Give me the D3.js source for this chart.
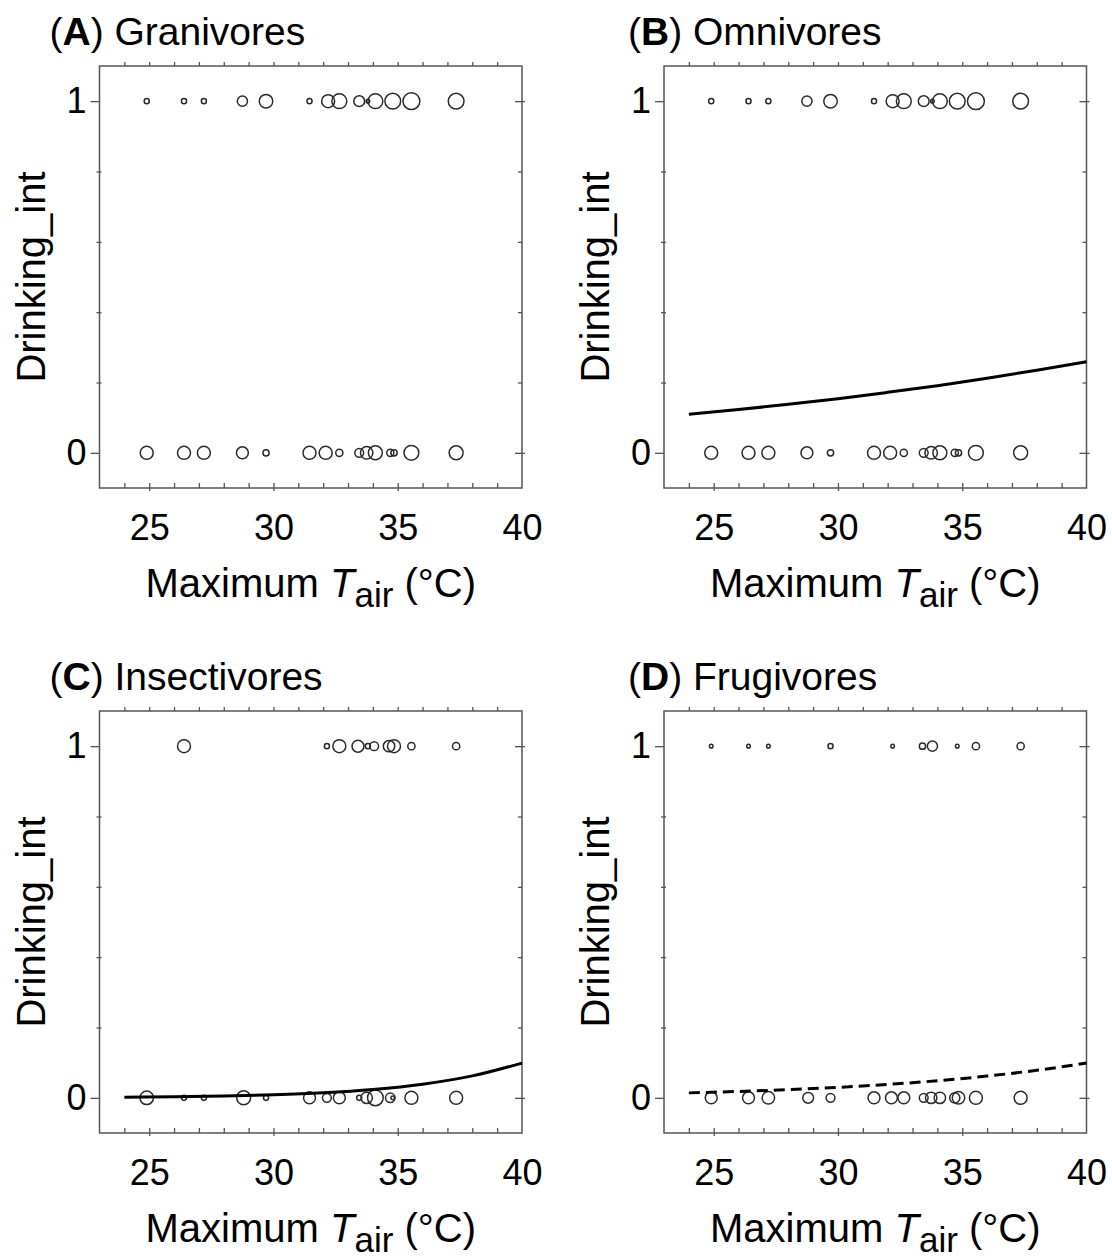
<!DOCTYPE html>
<html><head><meta charset="utf-8">
<script src="https://cdn.jsdelivr.net/npm/d3@7"></script>
<style>
body{margin:0;background:#fff}
svg{display:block}
text{font-family:"Liberation Sans",Arial,Helvetica,sans-serif;fill:#000}
</style>
</head><body>
<svg id="chart" width="1112" height="1259"></svg>
<script>
// ---------- data ----------
const panelLetters = ["A", "B", "C", "D"];
const panelNames = ["Granivores", "Omnivores", "Insectivores", "Frugivores"];
const xTickLabels = [25, 30, 35, 40];
const yTickLabels = [0, 1];

// Granivores: observations (max Tair) with drinking = 1 / 0, and number of observations
const granTopT = [24.9, 26.4, 27.2, 28.75, 29.7, 31.45, 32.2, 32.65, 33.45, 33.8, 34.1, 34.8, 35.55, 37.35];
const granTopN = [2, 2, 2, 8, 14, 2, 13, 17, 9, 1, 17, 19, 22, 19];
const granBotT = [24.9, 26.4, 27.2, 28.75, 29.7, 31.45, 32.1, 32.65, 33.45, 33.75, 34.1, 34.7, 34.85, 35.55, 37.35];
const granBotN = [13, 13, 13, 11, 3, 13, 13, 4, 6, 12, 15, 4, 3, 17, 15];

// Omnivores
const omniTopT = [24.9, 26.4, 27.2, 28.75, 29.7, 31.45, 32.2, 32.65, 33.45, 33.8, 34.1, 34.8, 35.55, 37.35];
const omniTopN = [2, 2, 2, 8, 14, 2, 13, 17, 9, 1, 17, 19, 22, 19];
const omniBotT = [24.9, 26.4, 27.2, 28.75, 29.7, 31.45, 32.1, 32.65, 33.45, 33.75, 34.1, 34.7, 34.85, 35.55, 37.35];
const omniBotN = [13, 13, 13, 11, 3, 13, 13, 4, 6, 12, 15, 4, 3, 17, 15];

// Insectivores
const insTopT = [26.4, 32.15, 32.65, 33.4, 33.8, 34.05, 34.65, 34.85, 35.55, 37.35];
const insTopN = [13, 2, 13, 11, 2, 6, 10, 13, 4, 4];
const insBotT = [24.9, 26.4, 27.2, 28.8, 29.7, 31.45, 32.15, 32.65, 33.45, 33.75, 34.1, 34.7, 34.8, 35.55, 37.35];
const insBotN = [14, 2, 2, 15, 2, 11, 6, 11, 2, 10, 19, 7, 1, 13, 13];

// Frugivores
const frugTopT = [24.9, 26.4, 27.2, 29.7, 32.2, 33.4, 33.8, 34.8, 35.55, 37.35];
const frugTopN = [1, 1, 1, 2, 1, 3, 8, 1, 4, 4];
const frugBotT = [24.9, 26.4, 27.2, 28.8, 29.7, 31.45, 32.15, 32.65, 33.45, 33.75, 34.1, 34.7, 34.85, 35.55, 37.35];
const frugBotN = [11, 11, 12, 9, 6, 11, 11, 11, 6, 10, 10, 8, 12, 13, 13];

// fitted curves
const curveT = [24, 26, 28, 30, 32, 34, 36, 38, 40];
const omniCurve = [0.110, 0.123, 0.138, 0.154, 0.172, 0.191, 0.212, 0.235, 0.259];
const insCurve = [0.0020, 0.0033, 0.0054, 0.0089, 0.0146, 0.0239, 0.0388, 0.0624, 0.0989];
const frugCurve = [0.0141, 0.0181, 0.0232, 0.0297, 0.0381, 0.0486, 0.0618, 0.0784, 0.0989];

// ---------- build ----------
const panels = [
  {top: [granTopT, granTopN], bot: [granBotT, granBotN], curve: null, dashed: false},
  {top: [omniTopT, omniTopN], bot: [omniBotT, omniBotN], curve: omniCurve, dashed: false},
  {top: [insTopT, insTopN], bot: [insBotT, insBotN], curve: insCurve, dashed: false},
  {top: [frugTopT, frugTopN], bot: [frugBotT, frugBotN], curve: frugCurve, dashed: true}
];
const origins = [[99.5, 66], [664, 66], [99.5, 711], [664, 711]];
const titleOffsets = [-50, -36, -50, -36];
const W = 422.5, H = 422;
const frameColor = "#555";

const svg = d3.select("#chart");
const rScale = d3.scaleSqrt().domain([0, 25]).range([0, 9]);

panels.forEach((p, i) => {
  const [ox, oy] = origins[i];
  const g = svg.append("g").attr("transform", `translate(${ox},${oy})`);
  const x = d3.scaleLinear().domain([23, 40]).range([0, W]);
  const y = d3.scaleLinear().domain([-0.1, 1.1]).range([H, 0]);

  function style(sel) {
    sel.select(".domain").remove();
    sel.selectAll(".tick line").attr("stroke", frameColor).attr("stroke-width", 1.3);
    sel.selectAll(".tick text").attr("font-size", 36).attr("font-family", '"Liberation Sans",Arial,sans-serif').attr("fill", "#000");
    sel.attr("font-size", null).attr("font-family", null);
  }
  const minorX = d3.range(24, 40);
  // bottom ticks (inward)
  g.append("g").attr("transform", `translate(0,${H})`)
    .call(d3.axisBottom(x).tickValues(minorX).tickSize(-5).tickFormat("")).call(style);
  g.append("g").attr("transform", `translate(0,${H})`)
    .call(d3.axisBottom(x).tickValues([25, 30, 35]).tickSize(3).tickFormat("")).call(style);
  // bottom labels
  g.append("g").attr("transform", `translate(0,${H})`)
    .call(d3.axisBottom(x).tickValues(xTickLabels).tickSize(0).tickPadding(26)).call(style);
  // top ticks (outward)
  g.append("g")
    .call(d3.axisTop(x).tickValues(minorX).tickSize(4).tickFormat("")).call(style);
  // left axis
  g.append("g")
    .call(d3.axisLeft(y).tickValues(yTickLabels).tickSize(9).tickPadding(4).tickFormat(d3.format("d"))).call(style);
  g.append("g")
    .call(d3.axisLeft(y).tickValues([0.2, 0.4, 0.6, 0.8]).tickSize(3).tickFormat("")).call(style);
  g.append("g")
    .call(d3.axisLeft(y).tickValues([0.2, 0.4, 0.6, 0.8]).tickSize(-2).tickFormat("")).call(style);
  // right axis
  g.append("g").attr("transform", `translate(${W},0)`)
    .call(d3.axisRight(y).tickValues(yTickLabels).tickSize(-7).tickFormat("")).call(style);
  g.append("g").attr("transform", `translate(${W},0)`)
    .call(d3.axisRight(y).tickValues(yTickLabels).tickSize(3).tickFormat("")).call(style);
  g.append("g").attr("transform", `translate(${W},0)`)
    .call(d3.axisRight(y).tickValues([0.2, 0.4, 0.6, 0.8]).tickSize(-4).tickFormat("")).call(style);

  // frame
  g.append("rect").attr("x", 0).attr("y", 0).attr("width", W).attr("height", H)
    .attr("fill", "none").attr("stroke", frameColor).attr("stroke-width", 1.5);

  // points
  const pts = [];
  p.top[0].forEach((t, k) => pts.push({t, v: 1, n: p.top[1][k]}));
  p.bot[0].forEach((t, k) => pts.push({t, v: 0, n: p.bot[1][k]}));
  g.append("g").selectAll("circle").data(pts).join("circle")
    .attr("cx", d => x(d.t)).attr("cy", d => y(d.v)).attr("r", d => rScale(d.n))
    .attr("fill", "none").attr("stroke", "#2a2a2a").attr("stroke-width", 1.5);

  // curve
  if (p.curve) {
    const line = d3.line().x((d, k) => x(curveT[k])).y(d => y(d)).curve(d3.curveMonotoneX);
    g.append("path").datum(p.curve).attr("d", line)
      .attr("fill", "none").attr("stroke", "#000").attr("stroke-width", 3)
      .attr("stroke-dasharray", p.dashed ? "11,6" : null);
  }

  // panel title
  const tt = g.append("text").attr("x", titleOffsets[i]).attr("y", -21).attr("font-size", 39);
  tt.append("tspan").text("(");
  tt.append("tspan").attr("font-weight", "bold").text(panelLetters[i]);
  tt.append("tspan").text(") " + panelNames[i]);

  // y title
  g.append("text").attr("transform", `translate(-55,${H / 2}) rotate(-90)`)
    .attr("text-anchor", "middle").attr("font-size", 40).text("Drinking_int");

  // x title
  const xt = g.append("text").attr("x", W / 2).attr("y", H + 109)
    .attr("text-anchor", "middle").attr("font-size", 40);
  xt.append("tspan").text("Maximum ");
  xt.append("tspan").attr("font-style", "italic").text("T");
  xt.append("tspan").attr("font-size", 35).attr("dy", 10).text("air");
  xt.append("tspan").attr("dy", -10).text(" (°C)");
});
</script>
</body></html>
